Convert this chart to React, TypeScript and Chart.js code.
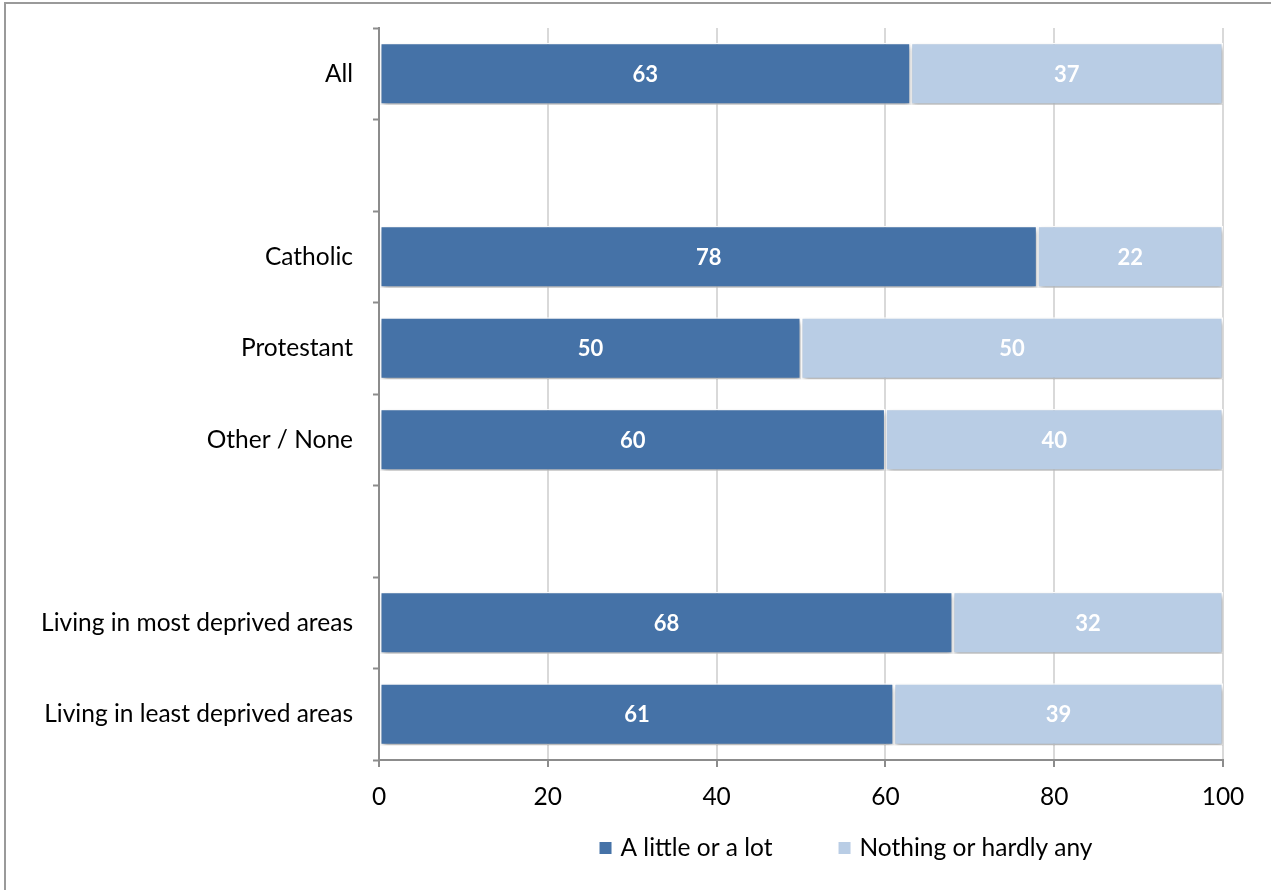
import React, { useEffect, useRef } from "react";
import { Chart, registerables } from "chart.js";

Chart.register(...registerables);

const categories = [
  "All",
  "",
  "Catholic",
  "Protestant",
  "Other / None",
  "",
  "Living in most deprived areas",
  "Living in least deprived areas",
];
const littleOrLot = [63, null, 78, 50, 60, null, 68, 61];
const nothingOrHardly = [37, null, 22, 50, 40, null, 32, 39];
const seriesNames = ["A little or a lot", "Nothing or hardly any"];
const xTicks = [0, 20, 40, 60, 80, 100];

const FONT = "Lato, 'Open Sans', sans-serif";
const DARK = "#4572A7";
const LIGHT = "#B9CDE5";
const AXIS = "#8C8C8C";
const GRID = "#D9D9D9";

// soft drop shadow under the bars
const shadowPlugin = {
  id: "barShadow",
  beforeDatasetsDraw(chart: any) {
    const ctx = chart.ctx;
    ctx.save();
    ctx.shadowColor = "rgba(0,0,0,0.35)";
    ctx.shadowBlur = 5;
    ctx.shadowOffsetX = 1;
    ctx.shadowOffsetY = 3;
  },
  afterDatasetsDraw(chart: any) {
    chart.ctx.restore();
  },
};

// value written in the middle of each segment
const valueLabels = {
  id: "valueLabels",
  afterDatasetsDraw(chart: any) {
    const ctx = chart.ctx;
    ctx.save();
    ctx.fillStyle = "#ffffff";
    ctx.font = `bold 22px ${FONT}`;
    ctx.textAlign = "center";
    ctx.textBaseline = "middle";
    chart.data.datasets.forEach((ds: any, di: number) => {
      const meta = chart.getDatasetMeta(di);
      meta.data.forEach((el: any, i: number) => {
        const v = ds.data[i];
        if (v === null || v === undefined) return;
        const p = el.getCenterPoint();
        ctx.fillText(String(v), p.x, p.y + 1);
      });
    });
    ctx.restore();
  },
};

// legend row below the axis
const bottomLegend = {
  id: "bottomLegend",
  afterDraw(chart: any) {
    const ctx = chart.ctx;
    ctx.save();
    ctx.font = `24.5px ${FONT}`;
    ctx.textBaseline = "middle";
    const box = 12;
    const gap = 9;
    const itemGap = 66;
    const items = chart.data.datasets.map((ds: any) => ({
      text: ds.label,
      color: ds.backgroundColor,
      w: box + gap + ctx.measureText(ds.label).width,
    }));
    const total =
      items.reduce((s: number, it: any) => s + it.w, 0) + itemGap * (items.length - 1);
    let x = 846 - total / 2;
    const y = 848;
    items.forEach((it: any) => {
      ctx.fillStyle = it.color;
      ctx.fillRect(x, y - box / 2, box, box);
      ctx.fillStyle = "#000000";
      ctx.fillText(it.text, x + box + gap, y);
      x += it.w + itemGap;
    });
    ctx.restore();
  },
};

export default function App() {
  const ref = useRef<HTMLCanvasElement | null>(null);

  useEffect(() => {
    if (!ref.current) return;
    const chart = new Chart(ref.current, {
      type: "bar",
      data: {
        labels: categories,
        datasets: [
          {
            label: seriesNames[0],
            data: littleOrLot,
            backgroundColor: DARK,
            borderColor: "#ffffff",
            borderWidth: 1.5,
            borderSkipped: false,
            barPercentage: 1,
            categoryPercentage: 0.68,
          },
          {
            label: seriesNames[1],
            data: nothingOrHardly,
            backgroundColor: LIGHT,
            borderColor: "#ffffff",
            borderWidth: 1.5,
            borderSkipped: false,
            barPercentage: 1,
            categoryPercentage: 0.68,
          },
        ],
      },
      options: {
        indexAxis: "y",
        responsive: false,
        animation: false,
        layout: { padding: { top: 28, right: 48, left: 0, bottom: 0 } },
        plugins: {
          legend: { display: false },
          tooltip: { enabled: false },
        },
        scales: {
          x: {
            stacked: true,
            min: 0,
            max: 100,
            afterBuildTicks(scale: any) {
              scale.ticks = xTicks.map((v) => ({ value: v }));
            },
            afterFit(scale: any) {
              scale.height = 130;
              scale.paddingLeft = 0;
              scale.paddingRight = 0;
            },
            ticks: {
              color: "#000000",
              font: { family: FONT, size: 24.5 },
              padding: 15,
            },
            grid: {
              color: GRID,
              lineWidth: 2,
              tickColor: AXIS,
              tickWidth: 2,
              tickLength: 7,
            },
            border: { color: AXIS, width: 2 },
          },
          y: {
            stacked: true,
            afterFit(scale: any) {
              scale.width = 379;
              scale.paddingTop = 0;
              scale.paddingBottom = 0;
            },
            ticks: {
              color: "#000000",
              font: { family: FONT, size: 24.5 },
              padding: 20,
              autoSkip: false,
            },
            grid: {
              drawOnChartArea: false,
              offset: true,
              tickColor: AXIS,
              tickWidth: 2,
              tickLength: 6,
            },
            border: { color: AXIS, width: 2 },
          },
        },
      },
      plugins: [shadowPlugin, valueLabels, bottomLegend],
    } as any);
    return () => chart.destroy();
  }, []);

  return (
    <div
      style={{
        position: "fixed",
        left: 0,
        top: 0,
        width: 1271,
        height: 890,
        overflow: "hidden",
        background: "#ffffff",
      }}
    >
      <div
        style={{
          position: "absolute",
          left: 4,
          top: 2,
          width: 1400,
          height: 1000,
          borderLeft: "2px solid #9A9A9A",
          borderTop: "2px solid #9A9A9A",
        }}
      />
      <canvas
        ref={ref}
        width={1271}
        height={890}
        style={{ position: "absolute", left: 0, top: 0, display: "block" }}
      />
    </div>
  );
}
